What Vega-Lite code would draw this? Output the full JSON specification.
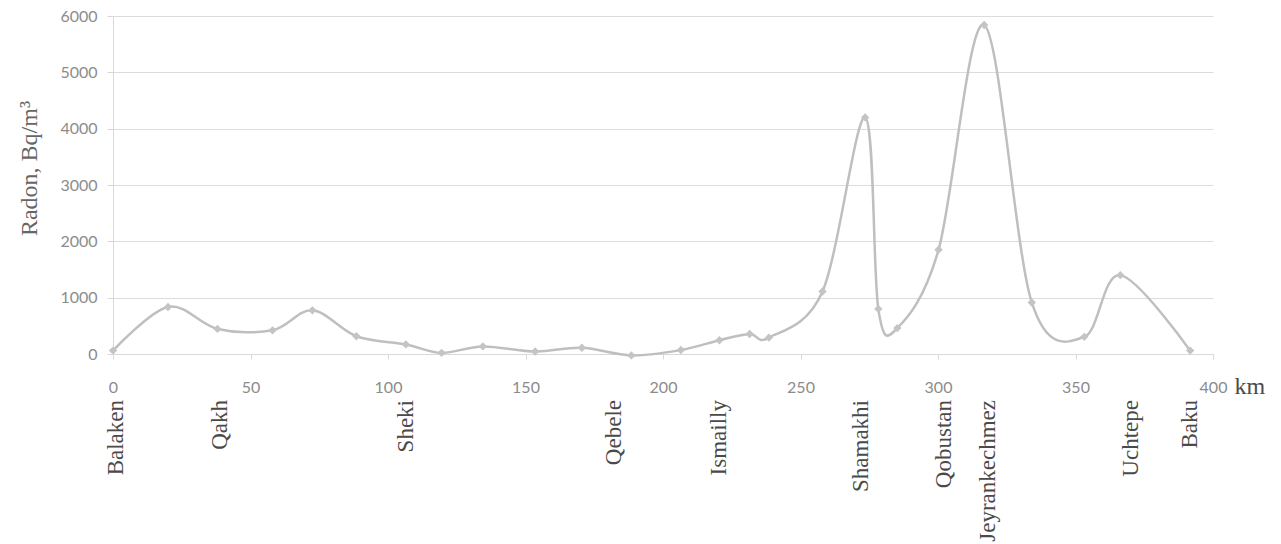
{
  "$schema": "https://vega.github.io/schema/vega-lite/v6.json",
  "width": 1100,
  "height": 338,
  "autosize": {"type": "none"},
  "padding": {"left": 113, "top": 16, "right": 68, "bottom": 190},
  "background": "white",
  "config": {"view": {"stroke": null}, "font": "Lato"},
  "datasets": {
    "radon": [
      {"km": 0, "radon": 60},
      {"km": 20, "radon": 835},
      {"km": 38, "radon": 445},
      {"km": 58, "radon": 420},
      {"km": 72.5, "radon": 775},
      {"km": 88.5, "radon": 315},
      {"km": 106.5, "radon": 170},
      {"km": 119.5, "radon": 20},
      {"km": 134.5, "radon": 135},
      {"km": 153.5, "radon": 45},
      {"km": 170.5, "radon": 110},
      {"km": 188.5, "radon": -25},
      {"km": 206.5, "radon": 70},
      {"km": 220.5, "radon": 245},
      {"km": 231.5, "radon": 355},
      {"km": 238.5, "radon": 290},
      {"km": 258, "radon": 1110},
      {"km": 273.5, "radon": 4200},
      {"km": 278.3, "radon": 800},
      {"km": 285.2, "radon": 460},
      {"km": 300.2, "radon": 1850},
      {"km": 316.8, "radon": 5840},
      {"km": 334.1, "radon": 915},
      {"km": 353.2, "radon": 305},
      {"km": 366.3, "radon": 1400},
      {"km": 391.7, "radon": 60}
    ],
    "stations": [
      {"km": 1, "name": "Balaken"},
      {"km": 39, "name": "Qakh"},
      {"km": 106.5, "name": "Sheki"},
      {"km": 182, "name": "Qebele"},
      {"km": 220.5, "name": "Ismailly"},
      {"km": 272, "name": "Shamakhi"},
      {"km": 302, "name": "Qobustan"},
      {"km": 318, "name": "Jeyrankechmez"},
      {"km": 370, "name": "Uchtepe"},
      {"km": 391.5, "name": "Baku"}
    ]
  },
  "layer": [
    {
      "data": {"name": "radon"},
      "mark": {"type": "line", "interpolate": "cardinal", "color": "#bfbfbf", "strokeWidth": 2.5},
      "encoding": {
        "x": {
          "field": "km",
          "type": "quantitative",
          "scale": {"domain": [0, 400], "nice": false},
          "axis": {
            "values": [0, 50, 100, 150, 200, 250, 300, 350, 400],
            "format": "d",
            "title": "km",
            "titleX": 1121,
            "titleY": 32,
            "titleAlign": "left",
            "titleBaseline": "middle",
            "titleAngle": 0,
            "titleFont": "Liberation Serif",
            "titleFontSize": 24,
            "titleFontWeight": "normal",
            "titleColor": "#4a4a4a",
            "grid": false,
            "domain": true,
            "domainColor": "#d9d9d9",
            "ticks": true,
            "tickColor": "#d9d9d9",
            "tickSize": 5,
            "labelFont": "Lato",
            "labelFontSize": 16,
            "labelColor": "#8c8c8c",
            "labelPadding": 20,
            "labelFlush": false,
            "labelOverlap": false
          }
        },
        "y": {
          "field": "radon",
          "type": "quantitative",
          "scale": {"domain": [0, 6000], "nice": false},
          "axis": {
            "values": [0, 1000, 2000, 3000, 4000, 5000, 6000],
            "format": "d",
            "title": "Radon, Bq/m³",
            "titleX": -84,
            "titleY": 152,
            "titleAngle": 270,
            "titleAlign": "center",
            "titleBaseline": "middle",
            "titleFont": "Liberation Serif",
            "titleFontSize": 24,
            "titleFontWeight": "normal",
            "titleColor": "#666666",
            "grid": true,
            "gridColor": "#dcdcdc",
            "domain": true,
            "domainColor": "#d9d9d9",
            "ticks": true,
            "tickColor": "#d9d9d9",
            "tickSize": 6,
            "labelPadding": 10,
            "labelFont": "Lato",
            "labelFontSize": 16,
            "labelColor": "#8c8c8c"
          }
        }
      }
    },
    {
      "data": {"name": "radon"},
      "mark": {"type": "point", "shape": "diamond", "filled": true, "color": "#c4c4c4", "size": 70, "opacity": 1},
      "encoding": {
        "x": {"field": "km", "type": "quantitative"},
        "y": {"field": "radon", "type": "quantitative"}
      }
    },
    {
      "data": {"name": "stations"},
      "mark": {
        "type": "text",
        "angle": 270,
        "align": "right",
        "baseline": "middle",
        "dx": -46,
        "font": "Liberation Serif",
        "fontSize": 23,
        "color": "#4a4a4a"
      },
      "encoding": {
        "x": {"field": "km", "type": "quantitative"},
        "y": {"datum": 0, "type": "quantitative"},
        "text": {"field": "name"}
      }
    }
  ]
}
